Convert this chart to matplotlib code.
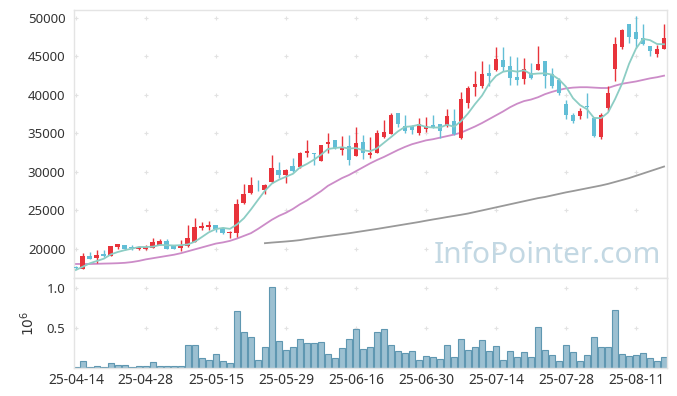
import matplotlib.pyplot as plt
import numpy as np

plt.rcParams['font.family'] = ['Noto Sans', 'DejaVu Sans']

# daily candles, index = trading day
opens = [17600, 17450, 19100, 18850, 19350, 19100, 20250, 20500, 20200, 19950,
         19950, 20150, 20550, 21000, 20500, 20150, 20400, 20900, 22750, 22850,
         23100, 22750, 22050, 22100, 26000, 27300, 28350, 27650, 28750, 30250,
         29650, 30800, 30700, 32400, 32450, 31450, 33650, 34100, 32850, 33400,
         32100, 33900, 32150, 32500, 34500, 34950, 37600, 35950, 36000, 35100,
         35600, 36050, 36200, 36000, 36600, 34450, 38900, 41050, 41150, 42850,
         43300, 44550, 43700, 42350, 42050, 42850, 43300, 44350, 42700, 41950,
         38850, 37400, 37250, 38550, 37050, 34600, 38250, 43400, 46200, 49200,
         48200, 47350, 46350, 45350, 45950]
closes = [17550, 19100, 18750, 19200, 19100, 20350, 20650, 19950, 20150, 20200,
          20300, 20900, 21050, 20000, 20000, 20500, 21400, 22850, 23000, 23100,
          22600, 22100, 22250, 25850, 27150, 28300, 28250, 28300, 30500, 29600,
          30250, 30150, 32450, 32750, 32350, 33450, 33900, 33100, 33200, 31550,
          33750, 32500, 32450, 35050, 35200, 37400, 36250, 35350, 35450, 36200,
          35950, 35900, 35350, 37250, 34900, 39500, 40950, 41450, 42750, 42500,
          44700, 43650, 42250, 42000, 43400, 42200, 44050, 42400, 41100, 40300,
          37450, 36650, 37900, 38400, 34650, 37350, 40250, 46600, 48450, 47500,
          47300, 46550, 45750, 45950, 47350]
highs = [17800, 19450, 19550, 19850, 19850, 20400, 20700, 20550, 20450, 20400,
         20500, 21400, 21350, 21250, 20550, 21200, 23100, 24000, 23500, 23600,
         23150, 22800, 22300, 26450, 28450, 29300, 28950, 28400, 32200, 31250,
         30400, 31800, 32550, 34100, 32500, 33500, 35050, 34150, 34700, 34800,
         35800, 34850, 34550, 35400, 36700, 37600, 37650, 37400, 36100, 36950,
         37100, 37400, 36250, 38200, 38200, 40350, 41100, 43100, 44400, 44000,
         46250, 46200, 45100, 44900, 44750, 44100, 46350, 44400, 43500, 42150,
         39350, 37700, 38350, 40300, 37100, 37600, 41100, 47550, 48600, 49250,
         50250, 49150, 46400, 46500, 49200]
lows = [17450, 17400, 18700, 18150, 19000, 19050, 20000, 19900, 19900, 19850,
        19800, 20100, 20500, 19950, 19950, 19700, 20200, 20850, 22450, 22450,
        22200, 21900, 21400, 21600, 25900, 27150, 27550, 27200, 28600, 29200,
        28550, 29950, 30500, 31900, 30900, 31400, 32500, 32950, 32200, 30900,
        32050, 31650, 31800, 32400, 34400, 34900, 35850, 35000, 34900, 34850,
        35200, 35650, 34450, 35900, 34800, 34250, 38250, 39800, 40950, 41100,
        43100, 43050, 41300, 41300, 41400, 42100, 43200, 40850, 40950, 40000,
        36850, 36300, 36850, 37000, 34550, 34250, 37850, 41850, 45950, 46800,
        46050, 46500, 45050, 44900, 45900]

volume = [12000, 83000, 12000, 21000, 12000, 58000, 33000, 33000, 12000, 21000,
          21000, 71000, 21000, 21000, 21000, 21000, 283000, 283000, 121000, 96000,
          171000, 88000, 63000, 708000, 446000, 383000, 96000, 258000, 1008000, 333000,
          221000, 258000, 358000, 308000, 308000, 321000, 171000, 121000, 246000, 358000,
          483000, 233000, 258000, 446000, 483000, 283000, 208000, 183000, 208000, 96000,
          146000, 133000, 108000, 283000, 133000, 358000, 221000, 258000, 346000, 208000,
          271000, 96000, 208000, 133000, 196000, 133000, 508000, 221000, 158000, 83000,
          283000, 196000, 83000, 158000, 383000, 258000, 258000, 721000, 171000, 146000,
          158000, 183000, 121000, 83000, 133000]

# moving averages as drawn on the chart
ma5 = [17270, 17700, 18140, 18440, 18740, 19300, 19610, 19850, 20040, 20260,
       20250, 20300, 20520, 20490, 20450, 20490, 20590, 20950, 21550, 22170,
       22590, 22730, 22610, 23180, 23990, 25130, 26360, 27570, 28500, 28990,
       29380, 29760, 30590, 31040, 31590, 32230, 32980, 33110, 33200, 33040,
       33100, 32820, 32690, 33060, 33790, 34520, 35270, 35850, 35930, 36130,
       35840, 35770, 35770, 36130, 35870, 36580, 37590, 38810, 39910, 41430,
       42470, 43010, 43170, 43020, 43200, 42700, 42780, 42810, 42630, 42010,
       41060, 39580, 38680, 38140, 37010, 36990, 37710, 39450, 41460, 44030,
       46020, 47280, 47110, 46610, 46580]
ma20 = [18050, 18050, 18050, 18070, 18100, 18120, 18150, 18200, 18300, 18450,
        18650, 18800, 18950, 19100, 19250, 19450, 19700, 19950, 20200, 20450,
        20700, 20850, 21050, 21350, 21700, 22050, 22600, 23200, 23800, 24300,
        24700, 25200, 25800, 26300, 26900, 27500, 28200, 28700, 29200, 29600,
        30100, 30600, 31100, 31550, 31950, 32400, 32850, 33250, 33600, 33850,
        34100, 34250, 34450, 34650, 34850, 35100, 35500, 35900, 36350, 36850,
        37350, 37850, 38400, 38850, 39200, 39400, 39700, 40100, 40400, 40650,
        40850, 40950, 41000, 41000, 40950, 40900, 40900, 41200, 41450, 41600,
        41750, 41950, 42150, 42300, 42500]
ma120_start = 27
ma120 = [20750, 20830, 20900, 20970, 21050, 21150, 21300, 21430, 21560, 21680,
         21800, 21920, 22040, 22180, 22320, 22460, 22600, 22750, 22900, 23050,
         23200, 23350, 23500, 23670, 23830, 23980, 24140, 24290, 24440, 24600,
         24800, 25000, 25200, 25400, 25600, 25800, 26000, 26200, 26400, 26600,
         26750, 26950, 27150, 27350, 27520, 27700, 27880, 28060, 28240, 28450,
         28700, 28950, 29200, 29500, 29800, 30100, 30400, 30700]

date_ticks = [0, 10, 20, 30, 40, 50, 60, 70, 80]
date_labels = ['25-04-14', '25-04-28', '25-05-15', '25-05-29', '25-06-16',
               '25-06-30', '25-07-14', '25-07-28', '25-08-11']
price_ticks = [20000, 25000, 30000, 35000, 40000, 45000, 50000]
vol_ticks = [0.5, 1.0]

up_col = '#e8333b'
down_col = '#62bed6'
frame_col = '#e4e4e4'
text_col = '#333333'

fig = plt.figure(figsize=(6.77, 3.96), dpi=100)
ax = fig.add_axes([0.109, 0.298, 0.876, 0.677])
axv = fig.add_axes([0.109, 0.0707, 0.876, 0.227], sharex=ax)

x = np.arange(len(closes))
o = np.array(opens)
c = np.array(closes)
colors = [up_col if cc >= oo else down_col for oo, cc in zip(o, c)]

# candles
ax.vlines(x, lows, highs, colors=colors, linewidth=1, zorder=3)
body_bot = np.minimum(o, c)
body_h = np.maximum(np.abs(c - o), 70)
ax.bar(x, body_h, 0.7, bottom=body_bot, color=colors, linewidth=0, zorder=3)

# moving averages
ax.plot(x, ma5, color='#8ccdc4', lw=1.3, zorder=4)
ax.plot(x, ma20, color='#cc8cc8', lw=1.3, zorder=2)
ax.plot(np.arange(ma120_start, ma120_start + len(ma120)), ma120,
        color='#999999', lw=1.3, zorder=2)

ax.set_xlim(-0.3, 84.4)
ax.set_ylim(16230, 51040)
ax.set_yticks(price_ticks)
ax.tick_params(axis='x', labelbottom=False, length=0)
ax.tick_params(axis='y', length=0, labelsize=9.5, colors=text_col, pad=6)

# grid crosses
gx, gy = np.meshgrid(date_ticks, price_ticks)
ax.scatter(gx.ravel(), gy.ravel(), marker='+', s=12, color='#e2e2e2', lw=0.8, zorder=1)

ax.text(0.99, 0.03, 'InfoPointer.com', transform=ax.transAxes, ha='right', va='bottom',
        fontsize=21.5, color='#c3d8e3', zorder=1)

# volume
axv.bar(x, np.array(volume) / 1e6, 0.95, color='#9cc0d1', edgecolor='#5f97b1',
        linewidth=0.8, zorder=2)
axv.set_ylim(0, 1.125)
axv.set_yticks(vol_ticks)
axv.set_yticklabels(['0.5', '1.0'])
axv.set_xticks(date_ticks)
axv.set_xticklabels(date_labels)
axv.tick_params(length=0, labelsize=10, colors=text_col)
axv.tick_params(axis='y', pad=6, labelsize=9.5)
axv.set_ylabel('$10^6$', color=text_col, fontsize=10, labelpad=6)
vx, vy = np.meshgrid(date_ticks, vol_ticks)
axv.scatter(vx.ravel(), vy.ravel(), marker='+', s=12, color='#e2e2e2', lw=0.8, zorder=1)

for a in (ax, axv):
    for s in a.spines.values():
        s.set_color(frame_col)
        s.set_linewidth(1)

fig.savefig('out.png', dpi=100)
